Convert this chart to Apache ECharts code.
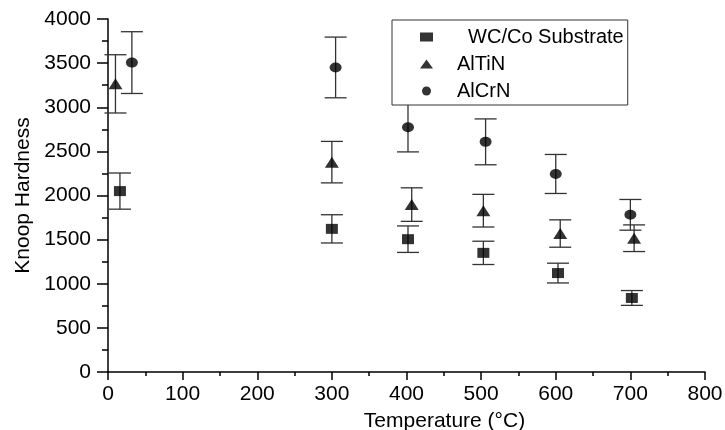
<!DOCTYPE html>
<html>
<head>
<meta charset="utf-8">
<script src="https://cdn.jsdelivr.net/npm/echarts@6/dist/echarts.min.js"></script>
<style>
html, body { margin: 0; padding: 0; background: #fff; }
#main { width: 725px; height: 430px; }
</style>
</head>
<body>
<div id="main"></div>
<script>
// WC/Co 基体
var tempWC = [16, 300, 402, 503, 603, 702];
var hardWC = [2050, 1622, 1505, 1350, 1121, 839];
var errWC = [205, 160, 150, 132, 112, 84];
// AlTiN 涂层
var tempTiN = [10, 300, 407, 503, 606, 705];
var hardTiN = [3265, 2378, 1897, 1828, 1569, 1516];
var errTiN = [330, 235, 190, 185, 155, 151];
// AlCrN 涂层
var tempCrN = [32, 305, 402, 506, 600, 700];
var hardCrN = [3506, 3451, 2774, 2608, 2244, 1781];
var errCrN = [350, 344, 280, 260, 221, 174];

var seriesNames = ['WC/Co Substrate', 'AlTiN', 'AlCrN'];
var fontName = 'Liberation Sans, Arial, sans-serif';

function pts(t, v) {
    return t.map(function (x, i) { return [x, v[i]]; });
}

// 误差线
function errBars(t, v, e) {
    return {
        type: 'custom',
        silent: true,
        z: 1,
        encode: { x: 0, y: [1, 2] },
        data: t.map(function (x, i) { return [x, v[i] - e[i], v[i] + e[i]]; }),
        renderItem: function (params, api) {
            var lo = api.coord([api.value(0), api.value(1)]);
            var hi = api.coord([api.value(0), api.value(2)]);
            var hw = 11;
            var st = { stroke: '#333', lineWidth: 1.3 };
            return {
                type: 'group',
                children: [
                    { type: 'line', shape: { x1: lo[0], y1: lo[1], x2: hi[0], y2: hi[1] }, style: st },
                    { type: 'line', shape: { x1: hi[0] - hw, y1: hi[1], x2: hi[0] + hw, y2: hi[1] }, style: st },
                    { type: 'line', shape: { x1: lo[0] - hw, y1: lo[1], x2: lo[0] + hw, y2: lo[1] }, style: st }
                ]
            };
        }
    };
}

var chart = echarts.init(document.getElementById('main'));
var option = {
    animation: false,
    textStyle: { fontFamily: fontName },
    grid: { left: 108, right: 20, top: 19, bottom: 58, outerBoundsMode: 'none' },
    legend: {
        data: seriesNames,
        orient: 'vertical',
        left: 392,
        top: 20,
        itemWidth: 13,
        itemHeight: 9,
        itemGap: 7,
        symbolKeepAspect: false,
        padding: [7, 4, 4, 28],
        borderColor: '#333',
        borderWidth: 1,
        backgroundColor: '#fff',
        formatter: function (name) {
            return name === 'WC/Co Substrate' ? '  ' + name : name;
        },
        textStyle: { fontSize: 20, lineHeight: 20, color: '#000', padding: [0, 0, 0, 19] }
    },
    xAxis: {
        type: 'value',
        min: 0,
        max: 800,
        interval: 100,
        name: 'Temperature (°C)',
        nameLocation: 'middle',
        nameGap: 39,
        nameTextStyle: { fontSize: 21, color: '#000', padding: [0, 0, 0, 76] },
        axisLine: { lineStyle: { color: '#000', width: 1.5 } },
        axisTick: { length: 8, lineStyle: { color: '#000', width: 1.5 } },
        minorTick: { show: true, splitNumber: 2, length: 4, lineStyle: { color: '#000', width: 1.5 } },
        axisLabel: { fontSize: 21, color: '#000', margin: 12 },
        splitLine: { show: false }
    },
    yAxis: {
        type: 'value',
        min: 0,
        max: 4000,
        interval: 500,
        name: 'Knoop Hardness',
        nameLocation: 'middle',
        nameGap: 74,
        nameTextStyle: { fontSize: 21, color: '#000' },
        axisLine: { show: true, lineStyle: { color: '#000', width: 1.5 } },
        axisTick: { show: true, length: 11, lineStyle: { color: '#000', width: 1.5 } },
        minorTick: { show: true, splitNumber: 2, length: 6, lineStyle: { color: '#000', width: 1.5 } },
        axisLabel: {
            fontSize: 21,
            color: '#000',
            margin: 17,
            formatter: function (v) { return String(v); }
        },
        splitLine: { show: false }
    },
    series: [
        errBars(tempWC, hardWC, errWC),
        errBars(tempTiN, hardTiN, errTiN),
        errBars(tempCrN, hardCrN, errCrN),
        {
            name: seriesNames[0],
            type: 'scatter',
            symbol: 'rect',
            symbolSize: [12, 10],
            itemStyle: { color: '#000' },
            z: 3,
            data: pts(tempWC, hardWC)
        },
        {
            name: seriesNames[1],
            type: 'scatter',
            symbol: 'triangle',
            symbolSize: [14, 11],
            itemStyle: { color: '#000' },
            z: 3,
            data: pts(tempTiN, hardTiN)
        },
        {
            name: seriesNames[2],
            type: 'scatter',
            symbol: 'circle',
            symbolSize: [12, 10],
            itemStyle: { color: '#000' },
            z: 3,
            data: pts(tempCrN, hardCrN)
        }
    ]
};
chart.setOption(option);
</script>
</body>
</html>
